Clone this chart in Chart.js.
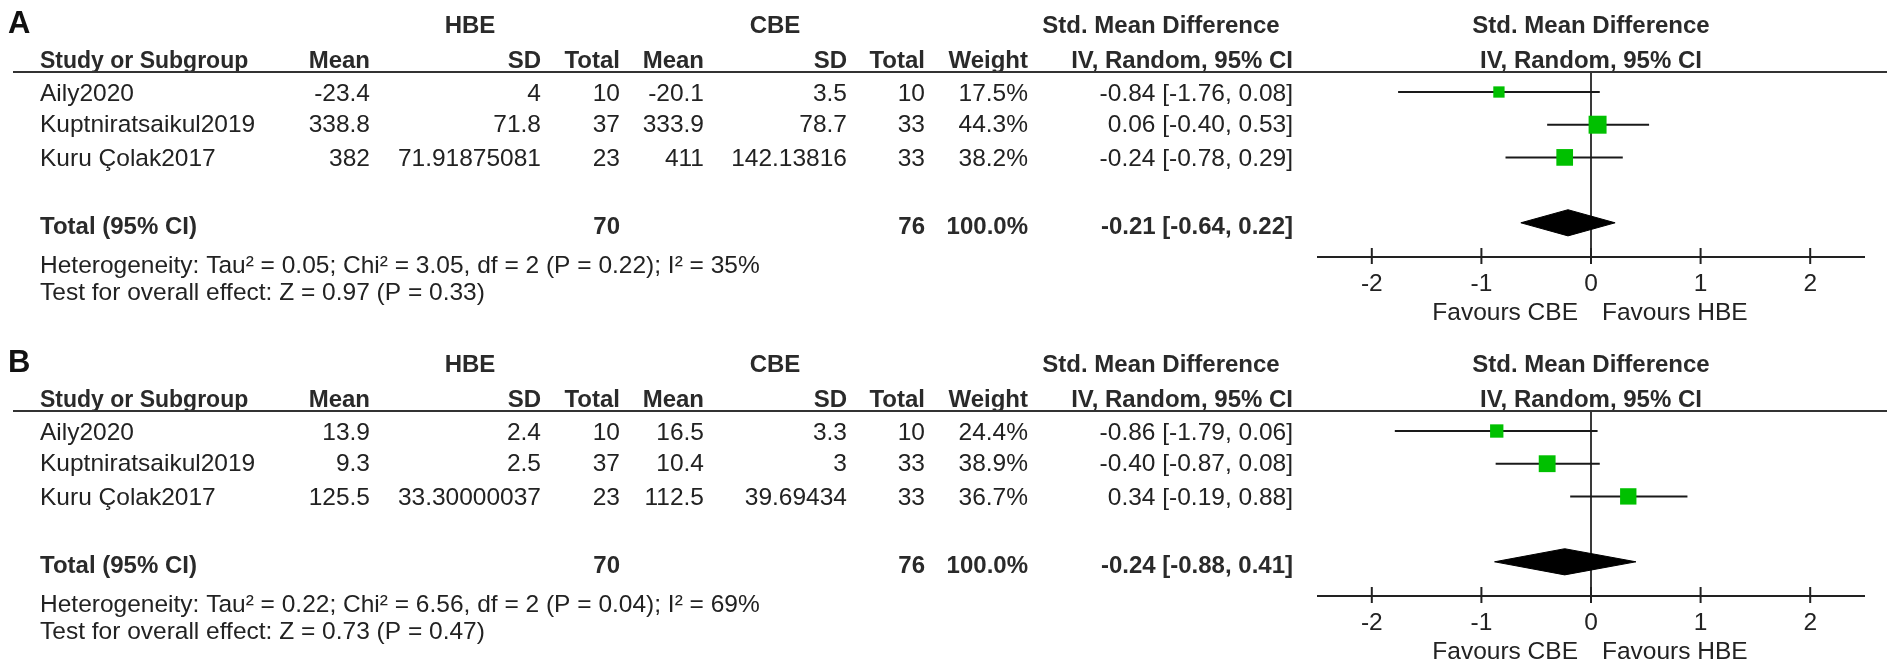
<!DOCTYPE html>
<html><head><meta charset="utf-8">
<script src="https://cdn.jsdelivr.net/npm/chart.js@4.4.1/dist/chart.umd.min.js"></script>
<style>
html,body{margin:0;padding:0;background:#fff;width:1902px;height:668px;overflow:hidden;}
canvas{position:absolute;left:0;}
#cA{top:0}
#cB{top:339px}
</style></head><body>
<canvas id="cA" width="1902" height="329"></canvas>
<canvas id="cB" width="1902" height="329"></canvas>
<script>
// ---------------- DATA ----------------
const studies = ['Aily2020', 'Kuptniratsaikul2019', 'Kuru Çolak2017'];

// Panel A
const hbeMeanA = [-23.4, 338.8, 382];
const hbeSdA   = [4, 71.8, 71.91875081];
const hbeNA    = [10, 37, 23];
const cbeMeanA = [-20.1, 333.9, 411];
const cbeSdA   = [3.5, 78.7, 142.13816];
const cbeNA    = [10, 33, 33];
const weightA  = [17.5, 44.3, 38.2];
const smdA     = [-0.84, 0.06, -0.24];
const loA      = [-1.76, -0.40, -0.78];
const hiA      = [0.08, 0.53, 0.29];
const totalA   = [-0.21, -0.64, 0.22];
const totalNA  = [70, 76];
const hetA  = 'Heterogeneity: Tau² = 0.05; Chi² = 3.05, df = 2 (P = 0.22); I² = 35%';
const testA = 'Test for overall effect: Z = 0.97 (P = 0.33)';

// Panel B
const hbeMeanB = [13.9, 9.3, 125.5];
const hbeSdB   = [2.4, 2.5, 33.30000037];
const hbeNB    = [10, 37, 23];
const cbeMeanB = [16.5, 10.4, 112.5];
const cbeSdB   = [3.3, 3, 39.69434];
const cbeNB    = [10, 33, 33];
const weightB  = [24.4, 38.9, 36.7];
const smdB     = [-0.86, -0.40, 0.34];
const loB      = [-1.79, -0.87, -0.19];
const hiB      = [0.06, 0.08, 0.88];
const totalB   = [-0.24, -0.88, 0.41];
const totalNB  = [70, 76];
const hetB  = 'Heterogeneity: Tau² = 0.22; Chi² = 6.56, df = 2 (P = 0.04); I² = 69%';
const testB = 'Test for overall effect: Z = 0.73 (P = 0.47)';

// Axis / labels
const xTicks = [-2, -1, 0, 1, 2];
const favours = ['Favours CBE', 'Favours HBE'];
const groupHeaders = ['HBE', 'CBE', 'Std. Mean Difference', 'Std. Mean Difference'];
const colHeaders = ['Study or Subgroup', 'Mean', 'SD', 'Total', 'Mean', 'SD', 'Total', 'Weight', 'IV, Random, 95% CI', 'IV, Random, 95% CI'];
const totalLabel = 'Total (95% CI)';

// ---------------- LAYOUT / STYLE ----------------
const FONT = '"Liberation Sans", Arial, Helvetica, sans-serif';
const TXT = '#222';
const HDR = '#2a2a2a';
const GREEN = '#00c000';
const COLX = {study: 40, hMean: 370, hSd: 541, hN: 620, cMean: 704, cSd: 847, cN: 925, w: 1028, ci: 1293};
const GROUPX = [470, 775, 1161];
const GROUPBASE = 33, HEADBASE = 68;
const ROWBASE = [101, 132, 166];
const TOTALBASE = 234, HETBASE = 273, TESTBASE = 300, TICKBASE = 291, FAVBASE = 320;
const TOTALROW = 5;
const DIAMOND_H = 0.4;

function txt(ctx, s, x, y, align, bold, size, color) {
  ctx.font = (bold ? 'bold ' : '') + size + 'px ' + FONT;
  ctx.textAlign = align;
  ctx.textBaseline = 'alphabetic';
  ctx.fillStyle = color || TXT;
  ctx.fillText(s, x, y);
}
const f2 = v => v.toFixed(2);

function forestPlugin(p) {
  return {
    id: 'forest' + p.letter,
    beforeDatasetsDraw(chart) {
      const ctx = chart.ctx, xs = chart.scales.x, a = chart.chartArea;
      const x0 = xs.getPixelForValue(0);
      ctx.save();
      ctx.strokeStyle = '#3a3a3a';
      ctx.lineWidth = 2;
      ctx.beginPath(); ctx.moveTo(x0, a.top); ctx.lineTo(x0, a.bottom); ctx.stroke();
      ctx.restore();
    },
    afterDraw(chart) {
      const ctx = chart.ctx, xs = chart.scales.x, a = chart.chartArea;
      const x0 = xs.getPixelForValue(0);
      ctx.save();
      // panel letter
      txt(ctx, p.letter, 8, 33, 'left', true, 31, '#111');
      // group headers
      txt(ctx, groupHeaders[0], GROUPX[0], GROUPBASE, 'center', true, 24, HDR);
      txt(ctx, groupHeaders[1], GROUPX[1], GROUPBASE, 'center', true, 24, HDR);
      txt(ctx, groupHeaders[2], GROUPX[2], GROUPBASE, 'center', true, 24, HDR);
      txt(ctx, groupHeaders[3], x0, GROUPBASE, 'center', true, 24, HDR);
      // column headers
      const hy = HEADBASE;
      txt(ctx, colHeaders[0], COLX.study, hy, 'left', true, 23, HDR);
      txt(ctx, colHeaders[1], COLX.hMean, hy, 'right', true, 24, HDR);
      txt(ctx, colHeaders[2], COLX.hSd, hy, 'right', true, 24, HDR);
      txt(ctx, colHeaders[3], COLX.hN, hy, 'right', true, 24, HDR);
      txt(ctx, colHeaders[4], COLX.cMean, hy, 'right', true, 24, HDR);
      txt(ctx, colHeaders[5], COLX.cSd, hy, 'right', true, 24, HDR);
      txt(ctx, colHeaders[6], COLX.cN, hy, 'right', true, 24, HDR);
      txt(ctx, colHeaders[7], COLX.w, hy, 'right', true, 24, HDR);
      txt(ctx, colHeaders[8], COLX.ci, hy, 'right', true, 24, HDR);
      txt(ctx, colHeaders[9], x0, hy, 'center', true, 24, HDR);
      // header rule
      ctx.strokeStyle = '#333'; ctx.lineWidth = 2;
      ctx.beginPath(); ctx.moveTo(13, a.top); ctx.lineTo(1887, a.top); ctx.stroke();
      // rows
      for (let i = 0; i < studies.length; i++) {
        const y = ROWBASE[i];
        txt(ctx, studies[i], COLX.study, y, 'left', false, 24.5);
        txt(ctx, String(p.hMean[i]), COLX.hMean, y, 'right', false, 24.5);
        txt(ctx, String(p.hSd[i]), COLX.hSd, y, 'right', false, 24.5);
        txt(ctx, String(p.hN[i]), COLX.hN, y, 'right', false, 24.5);
        txt(ctx, String(p.cMean[i]), COLX.cMean, y, 'right', false, 24.5);
        txt(ctx, String(p.cSd[i]), COLX.cSd, y, 'right', false, 24.5);
        txt(ctx, String(p.cN[i]), COLX.cN, y, 'right', false, 24.5);
        txt(ctx, p.w[i].toFixed(1) + '%', COLX.w, y, 'right', false, 24.5);
        txt(ctx, f2(p.smd[i]) + ' [' + f2(p.lo[i]) + ', ' + f2(p.hi[i]) + ']', COLX.ci, y, 'right', false, 24.5);
      }
      // total row
      const wsum = p.w.reduce((s, v) => s + v, 0);
      txt(ctx, totalLabel, COLX.study, TOTALBASE, 'left', true, 24, HDR);
      txt(ctx, String(p.totN[0]), COLX.hN, TOTALBASE, 'right', true, 24, HDR);
      txt(ctx, String(p.totN[1]), COLX.cN, TOTALBASE, 'right', true, 24, HDR);
      txt(ctx, wsum.toFixed(1) + '%', COLX.w, TOTALBASE, 'right', true, 24, HDR);
      txt(ctx, f2(p.tot[0]) + ' [' + f2(p.tot[1]) + ', ' + f2(p.tot[2]) + ']', COLX.ci, TOTALBASE, 'right', true, 24, HDR);
      // footer
      txt(ctx, p.het, COLX.study, HETBASE, 'left', false, 24.5);
      txt(ctx, p.test, COLX.study, TESTBASE, 'left', false, 24.5);
      // x axis
      const ay = a.bottom;
      ctx.strokeStyle = '#222'; ctx.lineWidth = 2;
      ctx.beginPath(); ctx.moveTo(xs.getPixelForValue(xs.min), ay); ctx.lineTo(xs.getPixelForValue(xs.max), ay); ctx.stroke();
      xTicks.forEach(t => {
        const tx = xs.getPixelForValue(t);
        ctx.beginPath(); ctx.moveTo(tx, ay - 9); ctx.lineTo(tx, ay + 7); ctx.stroke();
        txt(ctx, String(t), tx, TICKBASE, 'center', false, 24.5);
      });
      txt(ctx, favours[0], x0 - 13, FAVBASE, 'right', false, 24.5);
      txt(ctx, favours[1], x0 + 11, FAVBASE, 'left', false, 24.5);
      ctx.restore();
    }
  };
}

function makeChart(id, p) {
  const datasets = [];
  // squares (drawn on top)
  datasets.push({
    data: p.smd.map((v, i) => ({x: v, y: i + 1})),
    showLine: false,
    pointStyle: 'rect',
    pointRadius: c => 2.7 * Math.sqrt(p.w[c.dataIndex]) / 1.4142,
    pointBackgroundColor: GREEN,
    pointBorderWidth: 0,
    pointBorderColor: GREEN
  });
  // confidence intervals
  p.smd.forEach((v, i) => {
    datasets.push({
      data: [{x: p.lo[i], y: i + 1}, {x: p.hi[i], y: i + 1}],
      showLine: true, borderColor: '#1a1a1a', borderWidth: 2, pointRadius: 0, fill: false
    });
  });
  // diamond
  datasets.push({
    data: [
      {x: p.tot[1], y: TOTALROW},
      {x: p.tot[0], y: TOTALROW - DIAMOND_H},
      {x: p.tot[2], y: TOTALROW},
      {x: p.tot[0], y: TOTALROW + DIAMOND_H},
      {x: p.tot[1], y: TOTALROW}
    ],
    showLine: true, borderColor: '#000', borderWidth: 1, backgroundColor: '#000',
    fill: 'shape', pointRadius: 0, tension: 0
  });

  return new Chart(document.getElementById(id), {
    type: 'line',
    data: {datasets},
    options: {
      responsive: false,
      animation: false,
      events: [],
      devicePixelRatio: 1,
      layout: {padding: {left: 1317, right: 37, top: 72, bottom: 72}},
      plugins: {legend: {display: false}, tooltip: {enabled: false}},
      scales: {
        x: {type: 'linear', min: -2.5, max: 2.5, display: false},
        y: {type: 'linear', min: 0.388, max: 6.046, reverse: true, display: false}
      }
    },
    plugins: [forestPlugin(p)]
  });
}

makeChart('cA', {letter: 'A', hMean: hbeMeanA, hSd: hbeSdA, hN: hbeNA, cMean: cbeMeanA, cSd: cbeSdA, cN: cbeNA,
  w: weightA, smd: smdA, lo: loA, hi: hiA, tot: totalA, totN: totalNA, het: hetA, test: testA});
makeChart('cB', {letter: 'B', hMean: hbeMeanB, hSd: hbeSdB, hN: hbeNB, cMean: cbeMeanB, cSd: cbeSdB, cN: cbeNB,
  w: weightB, smd: smdB, lo: loB, hi: hiB, tot: totalB, totN: totalNB, het: hetB, test: testB});
</script>
</body></html>
